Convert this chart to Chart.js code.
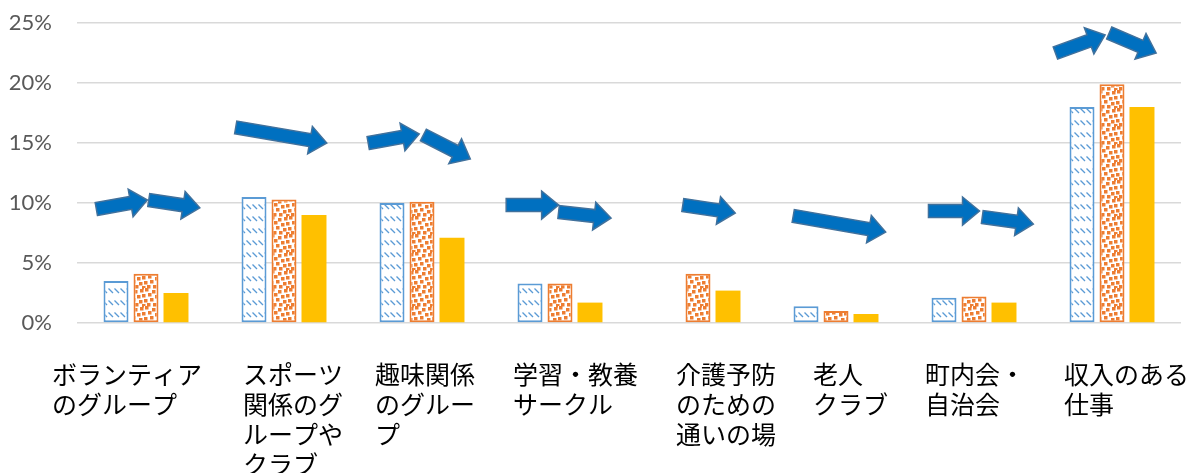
<!DOCTYPE html>
<html lang="ja">
<head>
<meta charset="utf-8">
<script src="https://cdn.jsdelivr.net/npm/chart.js@4/dist/chart.umd.min.js"></script>
<style>
  html, body { margin: 0; padding: 0; background: #fff; }
  canvas { display: block; }
</style>
</head>
<body>
<canvas id="chart" width="1194" height="473"></canvas>
<script>
// カテゴリ（改行位置はそのまま）
const categories = [
  ["ボランティア", "のグループ"],
  ["スポーツ", "関係のグ", "ループや", "クラブ"],
  ["趣味関係", "のグルー", "プ"],
  ["学習・教養", "サークル"],
  ["介護予防", "のための", "通いの場"],
  ["老人", "クラブ"],
  ["町内会・", "自治会"],
  ["収入のある", "仕事"],
];

// 各系列の割合（%）
const series1 = [3.5, 10.5, 10.0, 3.3, null, 1.4, 2.1, 18.0];
const series2 = [4.1, 10.3, 10.1, 3.3, 4.1, 1.0, 2.2, 19.9];
const series3 = [2.5, 9.0, 7.1, 1.7, 2.7, 0.75, 1.7, 18.0];

const yTicks = [0, 5, 10, 15, 20, 25];

// 増減を示す矢印：[始点カテゴリ, 始点%, 終点カテゴリ, 終点%]
const arrows = [
  [-0.36, 9.5, 0.01, 10.25],
  [0.02, 10.25, 0.39, 9.6],
  [0.65, 16.3, 1.31, 15.0],
  [1.61, 15.0, 1.98, 15.75],
  [2.01, 15.67, 2.35, 13.67],
  [2.61, 9.83, 2.99, 9.83],
  [2.99, 9.25, 3.37, 8.75],
  [3.89, 9.83, 4.27, 9.17],
  [4.69, 8.92, 5.36, 7.58],
  [5.67, 9.33, 6.04, 9.33],
  [6.06, 8.83, 6.43, 8.25],
  [6.59, 22.5, 6.95, 24.0],
  [6.98, 24.17, 7.32, 22.5],
];

const BLUE = "#5B9BD5";
const ORANGE = "#ED7D31";
const YELLOW = "#FFC000";

// 斜め破線の塗り
function dashPattern(color) {
  const c = document.createElement("canvas");
  c.width = 12; c.height = 12;
  const g = c.getContext("2d");
  g.fillStyle = "#fff";
  g.fillRect(0, 0, 12, 12);
  g.strokeStyle = color;
  g.lineWidth = 1.4;
  g.beginPath();
  g.moveTo(0.5, 0.5); g.lineTo(5, 5);
  g.moveTo(6.5, 0.5); g.lineTo(11, 5);
  g.stroke();
  return g.createPattern(c, "repeat");
}

// 紙吹雪風の塗り
function confettiPattern(color) {
  const n = 18;
  const c = document.createElement("canvas");
  c.width = n; c.height = n;
  const g = c.getContext("2d");
  g.fillStyle = "#fff";
  g.fillRect(0, 0, n, n);
  g.fillStyle = color;
  const dots = [[1, 0], [8, 2], [14, 1], [4, 5], [11, 7], [16, 6],
                [0, 11], [6, 10], [13, 12], [3, 15], [9, 15], [16, 16]];
  dots.forEach(([x, y]) => {
    g.fillRect(x, y, 3.5, 3.5);
    if (x + 3.5 > n) g.fillRect(x - n, y, 3.5, 3.5);
    if (y + 3.5 > n) g.fillRect(x, y - n, 3.5, 3.5);
  });
  return g.createPattern(c, "repeat");
}

// カテゴリ名を左揃えで下に描く
const categoryLabels = {
  id: "categoryLabels",
  afterDraw(chart, args, opts) {
    const { ctx } = chart;
    const x = chart.scales.x;
    ctx.save();
    ctx.font = opts.font;
    ctx.fillStyle = opts.color;
    ctx.textAlign = "left";
    ctx.textBaseline = "middle";
    categories.forEach((lines, i) => {
      const left = x.getPixelForValue(i) + opts.shift[i];
      lines.forEach((line, j) => {
        ctx.fillText(line, left, opts.top + j * opts.lineHeight);
      });
    });
    ctx.restore();
  },
};

// ブロック矢印
const trendArrows = {
  id: "trendArrows",
  afterDatasetsDraw(chart, args, opts) {
    const { ctx } = chart;
    const x = chart.scales.x, y = chart.scales.y;
    ctx.save();
    ctx.fillStyle = opts.fill;
    ctx.strokeStyle = opts.stroke;
    ctx.lineWidth = opts.lineWidth;
    ctx.lineJoin = "miter";
    arrows.forEach(([c1, v1, c2, v2]) => {
      const x1 = x.getPixelForValue(c1), y1 = y.getPixelForValue(v1);
      const x2 = x.getPixelForValue(c2), y2 = y.getPixelForValue(v2);
      const len = Math.hypot(x2 - x1, y2 - y1);
      const ux = (x2 - x1) / len, uy = (y2 - y1) / len;
      const nx = -uy, ny = ux;
      const s = opts.shaft / 2, h = opts.head / 2;
      const bx = x2 - ux * opts.headLength, by = y2 - uy * opts.headLength;
      ctx.beginPath();
      ctx.moveTo(x1 + nx * s, y1 + ny * s);
      ctx.lineTo(bx + nx * s, by + ny * s);
      ctx.lineTo(bx + nx * h, by + ny * h);
      ctx.lineTo(x2, y2);
      ctx.lineTo(bx - nx * h, by - ny * h);
      ctx.lineTo(bx - nx * s, by - ny * s);
      ctx.lineTo(x1 - nx * s, y1 - ny * s);
      ctx.closePath();
      ctx.fill();
      ctx.stroke();
    });
    ctx.restore();
  },
};

const ctx = document.getElementById("chart").getContext("2d");

new Chart(ctx, {
  type: "bar",
  data: {
    labels: categories,
    datasets: [
      {
        label: "系列1",
        data: series1,
        backgroundColor: dashPattern(BLUE),
        borderColor: BLUE,
        borderWidth: 2,
        borderSkipped: false,
      },
      {
        label: "系列2",
        data: series2,
        backgroundColor: confettiPattern(ORANGE),
        borderColor: ORANGE,
        borderWidth: 2,
        borderSkipped: false,
      },
      {
        label: "系列3",
        data: series3,
        backgroundColor: YELLOW,
        borderWidth: 0,
      },
    ],
  },
  options: {
    responsive: false,
    animation: false,
    layout: { padding: { left: 0, right: 13, top: 23, bottom: 150 } },
    datasets: {
      bar: { categoryPercentage: 0.652, barPercentage: 0.833 },
    },
    scales: {
      x: { display: false },
      y: {
        min: 0,
        max: 25,
        afterFit(scale) {
          scale.width = 77;
          // 目盛ラベルの余白で描画領域が縮まないようにする
          scale.paddingTop = 0;
          scale.paddingBottom = 0;
        },
        afterBuildTicks(scale) { scale.ticks = yTicks.map(v => ({ value: v })); },
        border: { display: false },
        grid: { color: "#D9D9D9", lineWidth: 1.5, drawTicks: false },
        ticks: {
          padding: 25,
          color: "#595959",
          font: { family: "Lato, 'Noto Sans', sans-serif", size: 22 },
          callback: v => v + "%",
        },
      },
    },
    plugins: {
      legend: { display: false },
      tooltip: { enabled: false },
      categoryLabels: {
        font: "25px 'Noto Sans CJK JP', sans-serif",
        color: "#000",
        top: 374,
        lineHeight: 30,
        shift: [-94, -41, -47, -47, -22, -23, -49, -48],
      },
      trendArrows: {
        fill: "#0070C0",
        stroke: "#41719C",
        lineWidth: 1.5,
        shaft: 13,
        head: 28,
        headLength: 17,
      },
    },
  },
  plugins: [trendArrows, categoryLabels],
});
</script>
</body>
</html>
